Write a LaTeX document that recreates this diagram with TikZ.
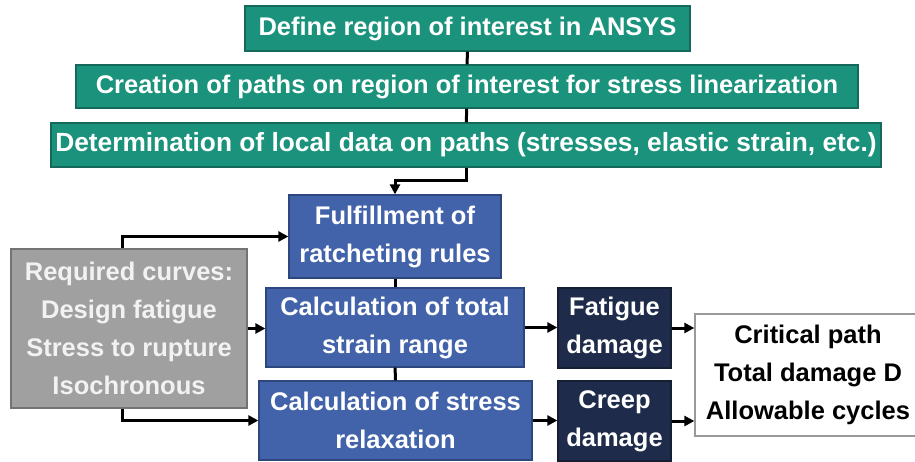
\documentclass[tikz,border=0pt]{standalone}
\usepackage{fontspec}
\setmainfont{Liberation Sans}
\usetikzlibrary{arrows.meta,positioning,calc}

\definecolor{tealbox}{RGB}{27,147,124}
\definecolor{tealline}{RGB}{20,105,90}
\definecolor{bluebox}{RGB}{66,99,170}
\definecolor{blueline}{RGB}{45,70,125}
\definecolor{navybox}{RGB}{31,43,74}
\definecolor{graybox}{RGB}{160,160,160}
\definecolor{grayline}{RGB}{115,115,115}

\begin{document}
\begin{tikzpicture}[
  x=1pt,y=-1pt,
  font=\fontsize{25.5}{38}\selectfont\bfseries,
  >={Triangle[length=10pt,width=10pt]},
  box/.style={draw,align=center,inner sep=0pt,line width=1.3pt,text=white},
  stepbox/.style={box,fill=tealbox,draw=tealline},
  calcbox/.style={box,fill=bluebox,draw=blueline},
  damagebox/.style={box,fill=navybox,draw=navybox!70!black,minimum width=113pt,minimum height=80pt},
  curvebox/.style={box,fill=graybox,draw=grayline,text=white!95!black},
  resultbox/.style={box,fill=white,draw=gray!80,text=black},
  arr/.style={->,line width=3pt},
  link/.style={line width=3pt},
]
\useasboundingbox (0,0) rectangle (915,461);

\node[stepbox,minimum width=445pt,minimum height=45pt] (roi) at (467.5,28.5) {Define region of interest in ANSYS};
\node[stepbox,minimum width=782pt,minimum height=43pt] (paths) at (467,86.5) {Creation of paths on region of interest for stress linearization};
\node[stepbox,minimum width=830pt,minimum height=44pt,font=\fontsize{26.3}{38}\selectfont\bfseries] (localdata) at (466,145) {Determination of local data on paths (stresses, elastic strain, etc.)};

\node[calcbox,minimum width=212pt,minimum height=83pt] (ratchet) at (395,236.5) {Fulfillment of\\ratcheting rules};
\node[calcbox,minimum width=258pt,minimum height=79pt] (strain) at (395,327.5) {Calculation of total\\strain range};
\node[calcbox,minimum width=273pt,minimum height=79pt] (relax) at (395.5,420.5) {Calculation of stress\\relaxation};

\node[curvebox,minimum width=236pt,minimum height=159pt] (curves) at (129,328.5) {Required curves:\\Design fatigue\\Stress to rupture\\Isochronous};

\node[damagebox] (fatigue) at (614.5,328) {Fatigue\\damage};
\node[damagebox] (creep) at (614.5,421) {Creep\\damage};

\node[resultbox,minimum width=226pt,minimum height=122pt] (output) at (808,375) {Critical path\\Total damage D\\Allowable cycles};

\draw[link] (roi) -- (paths);
\draw[link] (paths) -- (localdata);
\draw[arr] (localdata.south) -- ++(0,13) -| (ratchet.north);
\draw[link] (ratchet) -- (strain);
\draw[link] (strain) -- (relax);

\draw[arr] ([xshift=-7pt]curves.north) |- (ratchet.west);
\draw[arr] (curves.east) -- (curves.east -| strain.west);
\draw[arr] ([xshift=-7pt]curves.south) |- (relax.west);

\draw[arr] (strain.east) -- (strain.east -| fatigue.west);
\draw[arr] (relax.east) -- (relax.east -| creep.west);
\draw[arr] (fatigue.east) -- (fatigue.east -| output.west);
\draw[arr] (creep.east) -- (creep.east -| output.west);

\end{tikzpicture}
\end{document}
